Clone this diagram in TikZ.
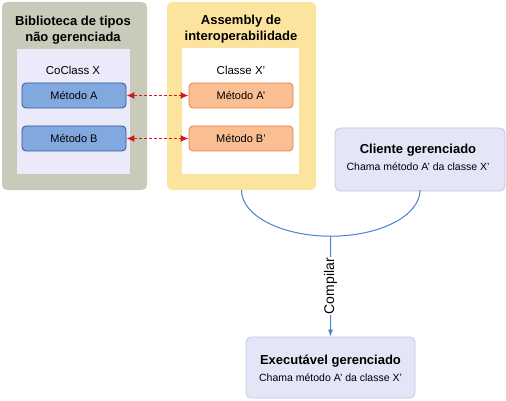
\documentclass[tikz,border=0pt]{standalone}
\usepackage{fontspec}
\setmainfont{Liberation Sans}
\usetikzlibrary{arrows.meta}
\definecolor{grayk}{HTML}{CACABB}
\definecolor{lav}{HTML}{EAEAFA}
\definecolor{yel}{HTML}{FDE49E}
\definecolor{bfill}{HTML}{82A9DF}
\definecolor{bdraw}{HTML}{34558F}
\definecolor{ofill}{HTML}{FABE93}
\definecolor{odraw}{HTML}{E8823A}
\definecolor{cfill}{HTML}{E5E5F8}
\definecolor{cdraw}{HTML}{C6C6DE}
\definecolor{arcb}{HTML}{4A80D0}
\definecolor{dred}{HTML}{D01A1A}
\tikzset{
  outerbox/.style={rectangle, rounded corners=5pt, inner sep=0pt},
  innerbox/.style={rectangle, inner sep=0pt},
  methblue/.style={rectangle, rounded corners=4pt, draw=bdraw, fill=bfill, line width=0.8pt, minimum width=104pt, minimum height=25pt, inner sep=0pt, font=\fontsize{11}{12}\selectfont},
  methor/.style={rectangle, rounded corners=4pt, draw=odraw, fill=ofill, line width=0.8pt, minimum width=104pt, minimum height=25pt, inner sep=0pt, font=\fontsize{11}{12}\selectfont},
  titletxt/.style={align=center, inner sep=0pt, font=\bfseries\fontsize{13}{16}\selectfont},
  boldtxt/.style={inner sep=0pt, font=\bfseries\fontsize{13}{16}\selectfont},
  smalltxt/.style={inner sep=0pt, font=\fontsize{10.5}{12}\selectfont},
  classtxt/.style={inner sep=0pt, font=\fontsize{11.5}{14}\selectfont},
  dasharrow/.style={draw=dred, line width=1.3pt, dash pattern=on 3pt off 2pt, {Latex[length=8pt,width=7pt]}-{Latex[length=8pt,width=7pt]}},
}
\begin{document}
\begin{tikzpicture}[x=1pt,y=-1pt]
\useasboundingbox (0,0) rectangle (506,401);
% left library
\node[outerbox, fill=grayk, minimum width=145pt, minimum height=188pt] (lib) at (74.5,96) {};
\node[titletxt] (libt) at (73,30) {Biblioteca de tipos\\não gerenciada};
\node[innerbox, fill=lav, minimum width=113pt, minimum height=125pt] (libin) at (73.5,111.5) {};
\node[classtxt] (cc) at (73,70) {CoClass X};
\node[methblue] (ma) at (74,95.5) {Método A};
\node[methblue] (mb) at (74,138.5) {Método B};
% interop assembly
\node[outerbox, fill=yel, minimum width=149pt, minimum height=188pt] (asm) at (241.5,96) {};
\node[titletxt] (asmt) at (241,29.5) {Assembly de\\interoperabilidade};
\node[innerbox, fill=white, minimum width=117pt, minimum height=126pt] (asmin) at (240.5,111) {};
\node[classtxt] (cx) at (241,70) {Classe X’};
\node[methor] (map) at (241,95.5) {Método A’};
\node[methor] (mbp) at (241,138.5) {Método B’};
% arrows
\draw[dasharrow] (ma.east) -- (map.west);
\draw[dasharrow] (mb.east) -- (mbp.west);
% client
\node[outerbox, fill=cfill, draw=cdraw, line width=0.8pt, minimum width=170pt, minimum height=63pt] (cli) at (420,159.5) {};
\node[boldtxt] (clit) at (418,150) {Cliente gerenciado};
\node[smalltxt] (clis) at (418,167) {Chama método A’ da classe X’};
% executable
\node[outerbox, fill=cfill, draw=cdraw, line width=0.8pt, minimum width=169pt, minimum height=61pt] (exe) at (330.5,367.5) {};
\node[boldtxt] (exet) at (330.5,361) {Executável gerenciado};
\node[smalltxt] (exes) at (330.5,378) {Chama método A’ da classe X’};
% compile arc
\draw[arcb, line width=1pt] (asm.south) arc[start angle=180, end angle=360, x radius=89.25pt, y radius=46pt];
\coordinate (m) at (330.75,236);
\draw[arcb, line width=1pt, -{Latex[length=7pt,width=5pt]}] (m) -- (exe.north)
  node[midway, fill=white, text=black, rotate=90, inner sep=1pt, font=\fontsize{14}{16}\selectfont] (comp) {Compilar};
\end{tikzpicture}
\end{document}
